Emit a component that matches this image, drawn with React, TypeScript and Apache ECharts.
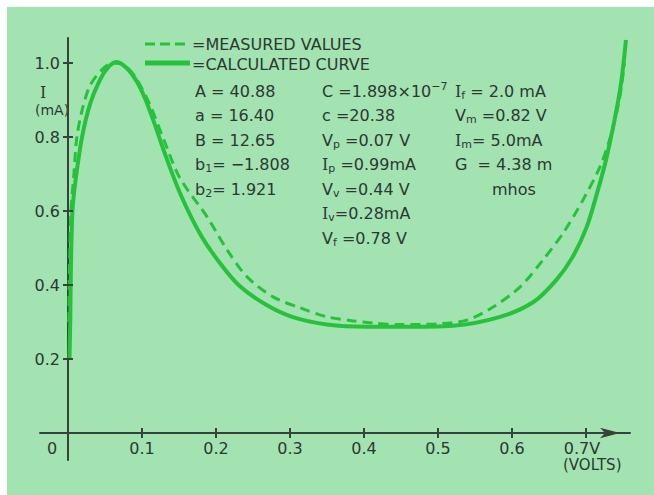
import React, { useEffect, useRef } from 'react';
import * as echarts from 'echarts';

// ---- data ----
const calcV = [0.002, 0.003, 0.004, 0.006, 0.010, 0.019, 0.030, 0.043, 0.055, 0.066, 0.080, 0.093, 0.105, 0.118, 0.130, 0.151, 0.178, 0.205, 0.232, 0.269, 0.304, 0.350, 0.404, 0.449, 0.520, 0.584, 0.629, 0.660, 0.682, 0.701, 0.715, 0.728, 0.746, 0.754];
const calcI = [0.20, 0.30, 0.45, 0.60, 0.68, 0.80, 0.89, 0.954, 0.99, 1.003, 0.985, 0.950, 0.900, 0.830, 0.760, 0.650, 0.540, 0.460, 0.397, 0.345, 0.313, 0.293, 0.287, 0.287, 0.290, 0.314, 0.354, 0.414, 0.476, 0.557, 0.649, 0.746, 0.927, 1.062];

const measV = [0.001, 0.002, 0.004, 0.008, 0.012, 0.020, 0.030, 0.045, 0.060, 0.075, 0.090, 0.110, 0.130, 0.151, 0.188, 0.215, 0.242, 0.277, 0.314, 0.350, 0.385, 0.412, 0.450, 0.500, 0.539, 0.575, 0.611, 0.642, 0.669, 0.696, 0.719, 0.733, 0.745, 0.752];
const measI = [0.30, 0.45, 0.60, 0.70, 0.80, 0.88, 0.94, 0.98, 1.000, 0.995, 0.965, 0.89, 0.79, 0.69, 0.584, 0.495, 0.422, 0.368, 0.338, 0.314, 0.303, 0.297, 0.293, 0.295, 0.305, 0.341, 0.395, 0.468, 0.540, 0.630, 0.720, 0.80, 0.90, 1.00];

const xTickValues = [0.1, 0.2, 0.3, 0.4, 0.5, 0.6, 0.7];
const xLabelValues = [0, 0.1, 0.2, 0.3, 0.4, 0.5, 0.6, 0.7];
const yTickValues = [0.2, 0.4, 0.6, 0.8, 1.0];

const seriesNames = ['=MEASURED VALUES', '=CALCULATED CURVE'];

const paramCol1 = ['A = 40.88', 'a = 16.40', 'B = 12.65', 'b{s|1}= −1.808', 'b{s|2}= 1.921'];
const paramCol2 = ['C =1.898×10{p|−7}', 'c =20.38', 'V{s|p} =0.07 V', '{i|I}{s|p} =0.99mA', 'V{s|v} =0.44 V', '{i|I}{s|v}=0.28mA', 'V{s|f} =0.78 V'];
const paramCol3 = ['{i|I}{s|f} = 2.0 mA', 'V{s|m} =0.82 V', '{i|I}{s|m}= 5.0mA', 'G  = 4.38 m'];

const FONT = 'DejaVu Sans';
const TXT = '#2c3831';
const AXIS = '#35433a';
const GREEN = '#26c23b';
const BG = '#a2e3b1';

export default function App() {
  const ref = useRef<HTMLDivElement>(null);
  useEffect(() => {
    document.body.style.margin = '0';
    const chart = echarts.init(ref.current!, null, { renderer: 'svg' });

    const rich: any = {
      s: { fontSize: 11, fontFamily: FONT, fill: TXT, padding: [9, 0, 0, 0] },
      p: { fontSize: 11, fontFamily: FONT, fill: TXT, padding: [0, 0, 9, 0] },
      i: { fontSize: 16, fontFamily: 'DejaVu Serif', fill: TXT },
    };
    const rowsY = [91, 115, 140, 164, 189, 213, 238];
    const textEl = (x: number, y: number, t: string, size = 16) => ({
      type: 'text',
      x,
      y,
      silent: true,
      style: {
        text: t,
        fontFamily: FONT,
        fontSize: size,
        fill: TXT,
        align: 'left',
        verticalAlign: 'middle',
        rich,
      },
    });
    const graphics: any[] = [
      { type: 'rect', z: -10, silent: true, shape: { x: 7, y: 7, width: 647, height: 488 }, style: { fill: BG } },
      // legend samples
      { type: 'line', silent: true, shape: { x1: 145, y1: 44, x2: 190, y2: 44 }, style: { stroke: GREEN, lineWidth: 3, lineDash: [10, 5] } },
      { type: 'line', silent: true, shape: { x1: 145, y1: 63, x2: 190, y2: 63 }, style: { stroke: GREEN, lineWidth: 5 } },
    ];
    graphics.push(textEl(192, 44, seriesNames[0]));
    graphics.push(textEl(192, 64, seriesNames[1]));
    paramCol1.forEach((t, k) => graphics.push(textEl(195, rowsY[k], t)));
    paramCol2.forEach((t, k) => graphics.push(textEl(322, rowsY[k], t)));
    paramCol3.forEach((t, k) => graphics.push(textEl(455, rowsY[k], t)));
    graphics.push(textEl(492, rowsY[4], 'mhos'));
    graphics.push(textEl(40, 92, '{i|I}'));
    graphics.push(textEl(35, 110, '(mA)', 14));
    graphics.push(textEl(563, 465, '(VOLTS)', 15));

    const tickSeries = (vals: number[], horizontal: boolean) => ({
      type: 'custom',
      silent: true,
      z: 4,
      data: vals.map((v) => (horizontal ? [v, 0] : [0, v])),
      renderItem: (_p: any, api: any) => {
        const pt = api.coord([api.value(0), api.value(1)]);
        return horizontal
          ? { type: 'line', shape: { x1: pt[0], y1: pt[1] - 5, x2: pt[0], y2: pt[1] + 5 }, style: { stroke: AXIS, lineWidth: 2 } }
          : { type: 'line', shape: { x1: pt[0] - 5, y1: pt[1], x2: pt[0] + 5, y2: pt[1] }, style: { stroke: AXIS, lineWidth: 2 } };
      },
    });

    chart.setOption({
      animation: false,
      backgroundColor: '#ffffff',
      grid: { left: 40, right: 24, top: 38, bottom: 35, outerBoundsMode: 'none', containLabel: false },
      xAxis: {
        type: 'value',
        min: -28 / 740,
        max: 562 / 740,
        axisLine: {
          onZero: true,
          lineStyle: { color: AXIS, width: 2 },
          symbol: ['none', 'arrow'],
          symbolSize: [8, 20],
          symbolOffset: [0, -10],
        },
        axisTick: { show: false },
        splitLine: { show: false },
        axisLabel: {
          customValues: xLabelValues,
          margin: -20,
          fontFamily: FONT,
          fontSize: 16,
          color: TXT,
          formatter: (v: number) => {
            if (Math.abs(v) < 1e-9) return '{z|0}';
            if (Math.abs(v - 0.7) < 1e-6) return '{w|0.7V}';
            return v.toFixed(1);
          },
          rich: {
            z: { fontFamily: FONT, fontSize: 16, color: TXT, padding: [0, 32, 0, 0] },
            w: { fontFamily: FONT, fontSize: 16, color: TXT, padding: [0, 8, 0, 0] },
          },
        },
      },
      yAxis: {
        type: 'value',
        min: -27 / 370,
        max: 395 / 370,
        axisLine: { onZero: true, lineStyle: { color: AXIS, width: 2 } },
        axisTick: { show: false },
        splitLine: { show: false },
        axisLabel: {
          customValues: yTickValues,
          margin: -20,
          fontFamily: FONT,
          fontSize: 16,
          color: TXT,
          formatter: (v: number) => v.toFixed(1),
        },
      },
      graphic: graphics,
      series: [
        {
          name: seriesNames[0],
          type: 'line',
          data: measV.map((v, k) => [v, measI[k]]),
          showSymbol: false,
          symbol: 'none',
          smooth: 0.3,
          clip: false,
          z: 2,
          lineStyle: { color: GREEN, width: 3, type: [10, 6] },
          itemStyle: { color: GREEN },
        },
        {
          name: seriesNames[1],
          type: 'line',
          data: calcV.map((v, k) => [v, calcI[k]]),
          showSymbol: false,
          symbol: 'none',
          smooth: 0.3,
          clip: false,
          z: 3,
          lineStyle: { color: GREEN, width: 4 },
          itemStyle: { color: GREEN },
        },
        tickSeries(xTickValues, true),
        tickSeries(yTickValues, false),
      ],
    });
    return () => chart.dispose();
  }, []);
  return <div ref={ref} style={{ position: 'fixed', left: 0, top: 0, width: 654, height: 495 }} />;
}
